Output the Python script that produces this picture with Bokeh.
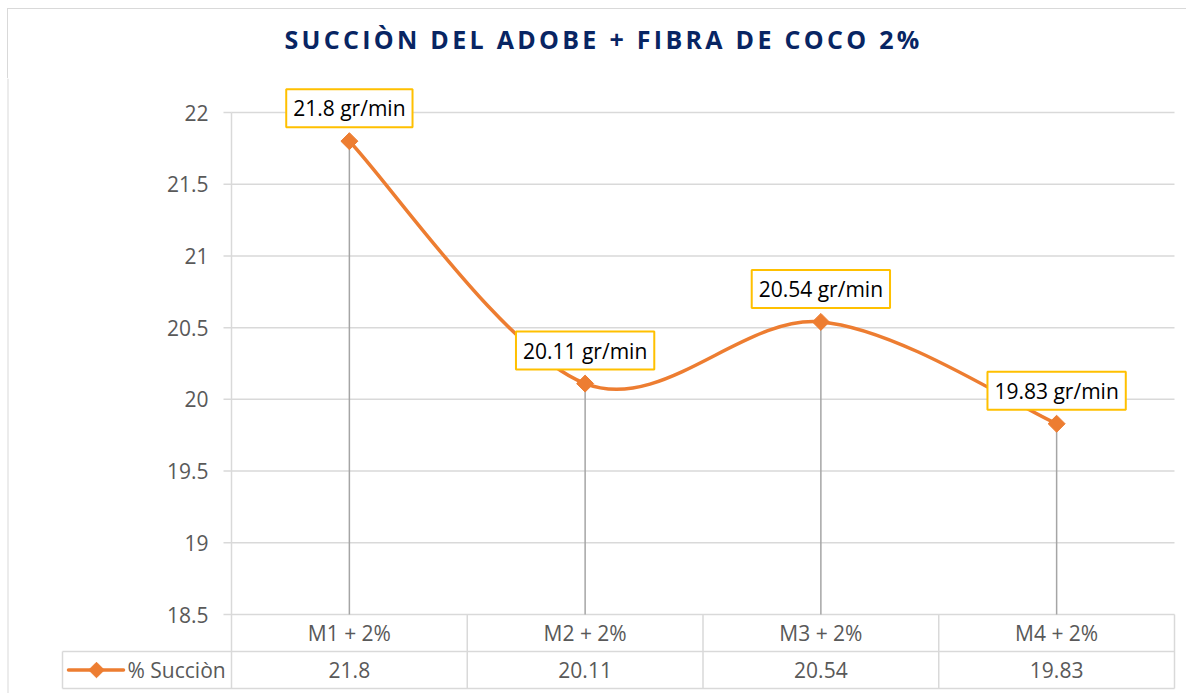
import math
from bokeh.plotting import figure
from bokeh.models import Label, Span, Div, Range1d
from bokeh.layouts import column
from bokeh.core.properties import value
from bokeh.embed import file_html
from bokeh.resources import INLINE

# ---------------- data ----------------
title = "SUCCIÒN DEL ADOBE + FIBRA DE COCO 2%"
categories = ["M1 + 2%", "M2 + 2%", "M3 + 2%", "M4 + 2%"]
succion = [21.8, 20.11, 20.54, 19.83]
series_name = "% Succiòn"
unit = "gr/min"
y_ticks = [18.5, 19, 19.5, 20, 20.5, 21, 21.5, 22]
y_tick_labels = ["18.5", "19", "19.5", "20", "20.5", "21", "21.5", "22"]

# ---------------- layout (page pixels) ----------------
FONT = "Open Sans"
FS = "21px"
ORANGE = "#ED7D31"
GRID = "#d9d9d9"
TXT = "#595959"
PAGE_W, PAGE_H = 1186, 693
DIV_TOP = 8
DIV_LEFT = 7
DIV_H = 70
FIG_TOP = DIV_TOP + DIV_H
FIG_H = PAGE_H - FIG_TOP
AX_X = 231.0          # page x of plot-area left edge
PX = 235.75           # pixels per category
Y_TOP_PX = 112.0      # page y of top tick
PY = 143.43           # pixels per y unit
y_min, y_max = min(y_ticks), max(y_ticks)
n = len(categories)


def dx(px):
    return (px - AX_X) / PX


def dy(py):
    return y_max - (py - Y_TOP_PX) / PY


xs = [i + 0.5 for i in range(n)]

p = figure(width=PAGE_W, height=FIG_H, x_axis_type=None, y_axis_type=None,
           x_range=Range1d(dx(0), dx(PAGE_W)), y_range=Range1d(dy(PAGE_H), dy(FIG_TOP)),
           toolbar_location=None, output_backend="svg", min_border=0,
           outline_line_color=None, background_fill_color="white", border_fill_color="white")
p.margin = 0

# left border of chart area
p.add_layout(Span(location=dx(DIV_LEFT + 0.5), dimension="height", line_color=GRID, line_width=1))

# grid lines and tick marks
p.segment(x0=[0] * len(y_ticks), y0=y_ticks, x1=[n] * len(y_ticks), y1=y_ticks,
          line_color=GRID, line_width=1.5)
p.segment(x0=[dx(223)] * len(y_ticks), y0=y_ticks, x1=[0] * len(y_ticks), y1=y_ticks,
          line_color=GRID, line_width=1.5)

# table rows
row_top_px, row_mid_px, row_bot_px = 614, 651, 688
row_mid, row_bot = dy(row_mid_px), dy(row_bot_px)
p.segment(x0=[dx(62), dx(62)], y0=[row_mid, row_bot], x1=[n, n], y1=[row_mid, row_bot],
          line_color=GRID, line_width=1.5)
vx = [dx(62)] + [0] + [i + 1 for i in range(n)]
vy0 = [row_mid] + [y_max] + [y_min] * n
p.segment(x0=vx, y0=vy0, x1=vx, y1=[row_bot] * len(vx), line_color=GRID, line_width=1.5)

# y tick labels
p.text(x=[dx(208)] * len(y_ticks), y=y_ticks, text=y_tick_labels,
       text_font=value(FONT), text_font_size=FS, text_color=TXT,
       text_align="right", text_baseline="middle")

# table texts
cat_y = dy((row_top_px + row_mid_px) / 2)
val_y = dy((row_mid_px + row_bot_px) / 2)
p.text(x=xs, y=[cat_y] * n, text=categories,
       text_font=value(FONT), text_font_size=FS, text_color=TXT,
       text_align="center", text_baseline="middle")
p.text(x=xs, y=[val_y] * n, text=[str(v) for v in succion],
       text_font=value(FONT), text_font_size=FS, text_color=TXT,
       text_align="center", text_baseline="middle")

# legend key in table
p.segment(x0=[dx(68)], y0=[val_y], x1=[dx(123)], y1=[val_y], line_color=ORANGE,
          line_width=3.5, line_cap="round")
p.scatter(x=[dx(96)], y=[val_y], marker="square", angle=math.pi / 4, size=11,
          fill_color=ORANGE, line_color=ORANGE)
p.text(x=[dx(127)], y=[val_y], text=[series_name], text_font=value(FONT),
       text_font_size=FS, text_color=TXT, text_align="left", text_baseline="middle")

# drop lines
p.segment(x0=xs, y0=succion, x1=xs, y1=[y_min] * n, line_color="#a5a5a5", line_width=1.5)

# smoothed line (Catmull-Rom -> Bezier)
pts = list(zip(xs, succion))
bx0, by0, bx1, by1, c0x, c0y, c1x, c1y = [], [], [], [], [], [], [], []
for i in range(n - 1):
    pm = pts[max(i - 1, 0)]
    p0 = pts[i]
    p1 = pts[i + 1]
    p2 = pts[min(i + 2, n - 1)]
    bx0.append(p0[0]); by0.append(p0[1])
    bx1.append(p1[0]); by1.append(p1[1])
    c0x.append(p0[0] + (p1[0] - pm[0]) / 6); c0y.append(p0[1] + (p1[1] - pm[1]) / 6)
    c1x.append(p1[0] - (p2[0] - p0[0]) / 6); c1y.append(p1[1] - (p2[1] - p0[1]) / 6)
p.bezier(x0=bx0, y0=by0, x1=bx1, y1=by1, cx0=c0x, cy0=c0y, cx1=c1x, cy1=c1y,
         line_color=ORANGE, line_width=3.5, line_cap="round")

p.scatter(x=xs, y=succion, marker="square", angle=math.pi / 4, size=12,
          fill_color=ORANGE, line_color=ORANGE)

# data labels
for x, v in zip(xs, succion):
    p.add_layout(Label(x=x, y=v, text=f"{v} {unit}", y_offset=33,
                       text_align="center", text_baseline="middle",
                       text_font=FONT, text_font_size=FS, text_color="black",
                       background_fill_color="white", border_line_color="#FFC000",
                       border_line_width=2, padding=(7, 5)))

title_html = (
    f'<div style="width:{PAGE_W - DIV_LEFT}px;text-align:center;padding-top:13px;padding-left:12px;'
    f'box-sizing:border-box;font-family:\'Open Sans\';font-weight:700;font-size:25px;'
    f'letter-spacing:3.3px;color:#082563;white-space:nowrap;">{title}</div>'
)
div = Div(text=title_html, width=PAGE_W - DIV_LEFT, height=DIV_H, margin=(DIV_TOP, 0, 0, DIV_LEFT),
          styles={"border-top": f"1px solid {GRID}", "border-left": f"1px solid {GRID}",
                  "box-sizing": "border-box", "background-color": "white"})

layout = column(div, p, spacing=0, margin=0)

open("out.html", "w", encoding="utf-8").write(file_html(layout, INLINE))
